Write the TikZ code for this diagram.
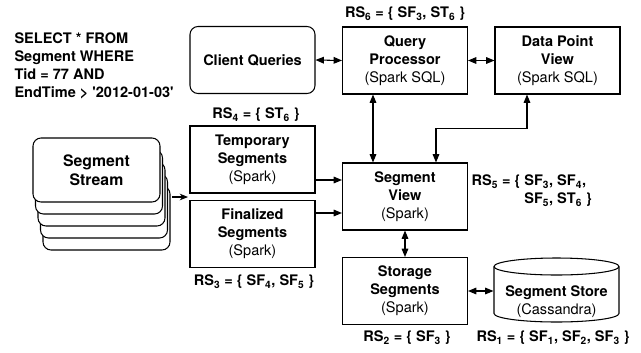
\documentclass[tikz,border=0pt]{standalone}
\usepackage{fontspec}
\setmainfont{TeX Gyre Heros}
\usetikzlibrary{arrows.meta,positioning}
\newcommand{\diafont}{\fontsize{12.4}{15.3}\selectfont}
\newcommand{\rsub}[1]{\textsubscript{#1}}
\newcommand{\tech}[1]{{\mdseries (#1)}}
\tikzset{
  block/.style={draw, line width=0.9pt, minimum width=3.75cm, minimum height=2.01cm,
    align=center, inner sep=2pt, font=\diafont\bfseries},
  rblock/.style={block, rounded corners=0.24cm},
  rslabel/.style={font=\diafont\bfseries, inner sep=1pt},
}

\begin{document}
\begin{tikzpicture}[x=0.03cm,y=-0.03cm,line width=0.9pt,
    >={Triangle[length=0.25cm,width=0.2cm]}]
  \useasboundingbox (0,0) rectangle (641,352);
  % query text
  \node[anchor=north west, align=left, font=\diafont\bfseries, inner sep=0pt] (sql) at (14,32)
    {SELECT * FROM\\Segment WHERE\\Tid = 77 AND\\EndTime > \textquotesingle 2012-01-03\textquotesingle};
  % top row
  \node[rblock] (client) at (252.5,60) {Client Queries};
  \node[block] (qp) at (405,60.5) {Query\\Processor\\\tech{Spark SQL}};
  \node[block] (dpv) at (557.5,60.5) {Data Point\\View\\\tech{Spark SQL}};
  % segments
  \node[block] (temp) at (252.5,159.5) {Temporary\\Segments\\\tech{Spark}};
  \node[block] (final) at (252.5,234) {Finalized\\Segments\\\tech{Spark}};
  \node[block] (segview) at (405,196.5) {Segment\\View\\\tech{Spark}};
  \node[block] (storage) at (405,291) {Storage\\Segments\\\tech{Spark}};
  % segment stream (stacked)
  \foreach \i in {4,3,2,1}
    \draw[rounded corners=0.24cm, fill=white] ({33+2.5*\i},{138+12*\i}) rectangle ++(127,64);
  \node[rblock, fill=white, minimum width=3.81cm, minimum height=1.92cm,
    font=\fontsize{13.5}{16}\selectfont\bfseries] (stream) at (96.5,170) {Segment\\Stream};
  % segment store (cylinder)
  \draw (494,266.5) -- (494,313.5)
    arc[start angle=180, end angle=360, x radius=1.875cm, y radius=0.255cm] -- (619,266.5);
  \draw (556.5,266.5) ellipse[x radius=1.875cm, y radius=0.255cm];
  \node[align=center, font=\diafont, minimum width=3.75cm, inner sep=0pt] (store) at (556.5,301.5)
    {\textbf{Segment Store}\\(Cassandra)};
  % result sets
  \node[rslabel] (rs6) at (405,14) {RS\rsub{6} = \{ SF\rsub{3}, ST\rsub{6} \}};
  \node[rslabel] (rs4) at (256,115) {RS\rsub{4} = \{ ST\rsub{6} \}};
  \node[rslabel] (rs3) at (254,282) {RS\rsub{3} = \{ SF\rsub{4}, SF\rsub{5} \}};
  \node[rslabel] (rs2) at (407,338) {RS\rsub{2} = \{ SF\rsub{3} \}};
  \node[rslabel] (rs1) at (553,338) {RS\rsub{1} = \{ SF\rsub{1}, SF\rsub{2}, SF\rsub{3} \}};
  \node[rslabel, align=left, anchor=west] (rs5) at (470,191)
    {RS\rsub{5} = \{ SF\rsub{3}, SF\rsub{4},\\\phantom{RS\rsub{5} = \{ }SF\rsub{5}, ST\rsub{6} \}};
  % connectors
  \draw[<->] (client.east) -- (qp.west);
  \draw[<->] (qp.east) -- (dpv.west);
  \draw[<->] ([xshift=-0.96cm]qp.south) -- ([xshift=-0.96cm]segview.north);
  \draw[<->] ([xshift=0.93cm]segview.north) -- ++(0,1.02cm) -| ([xshift=-0.915cm]dpv.south);
  \coordinate (tempout) at ([yshift=-0.615cm]temp.east);
  \coordinate (finalout) at ([yshift=0.63cm]final.east);
  \draw[->] (tempout) -- (tempout -| segview.west);
  \draw[->] (finalout) -- (finalout -| segview.west);
  \draw[<->] (segview.south) -- (storage.north);
  \draw[<->] (storage.east) -- (storage.east -| store.west);
  \coordinate (streamout) at (172,197);
  \coordinate (split) at (188,197);
  \draw[-{Stealth[length=0.25cm,width=0.2cm]}] (streamout) -- (split);
\end{tikzpicture}
\end{document}
